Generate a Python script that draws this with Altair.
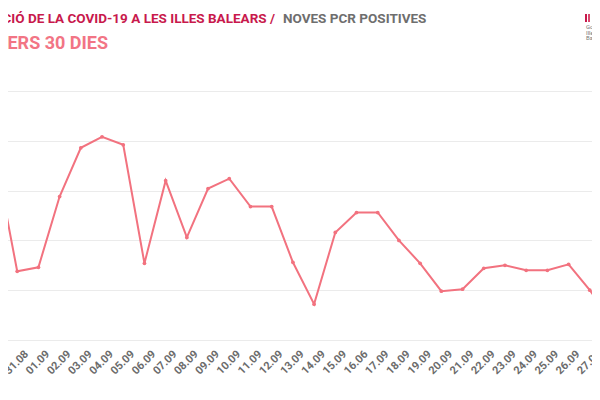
import altair as alt
import pandas as pd

dates = ["30.08", "31.08", "01.09", "02.09", "03.09", "04.09", "05.09", "06.09",
         "07.09", "08.09", "09.09", "10.09", "11.09", "12.09", "13.09", "14.09",
         "15.09", "16.06", "17.09", "18.09", "19.09", "20.09", "21.09", "22.09",
         "23.09", "24.09", "25.09", "26.09", "27.09", "28.09"]
positives = [362, 138, 146, 288, 386, 408, 392, 154, 320, 206, 304, 324, 268, 268,
             156, 72, 216, 256, 256, 200, 154, 98, 102, 144, 150, 140, 140, 152,
             100, 42]
y_ticks = [0, 100, 200, 300, 400, 500]

title_main = "EVOLUCIÓ DE LA COVID-19 A LES ILLES BALEARS /"
title_side = "NOVES PCR POSITIVES"
subtitle = "DARRERS 30 DIES"
logo_lines = ["Govern", "Illes", "Balears"]

df = pd.DataFrame({"date": dates, "value": positives})

FONT = "Roboto"
LINE = "#f2727f"

base = alt.Chart(df)
line = base.mark_line(
    color=LINE, strokeWidth=2, clip=False,
    point=alt.OverlayMarkDef(color=LINE, size=14, filled=True),
).encode(
    x=alt.X("date:O", sort=None,
            scale=alt.Scale(type="point", padding=0),
            axis=alt.Axis(title=None, labelAngle=-45, domain=False, ticks=False,
                          labelFont=FONT, labelFontWeight="bold", labelFontSize=11,
                          labelColor="#6b6b6b", labelPadding=8, labelOverlap=False,
                          labelOffset=5)),
    y=alt.Y("value:Q",
            scale=alt.Scale(domain=[0, 500], nice=False, zero=True),
            axis=alt.Axis(title=None, values=y_ticks, labels=False, domain=False,
                          ticks=False, gridColor="#ebebeb", gridWidth=1)),
)

one = pd.DataFrame({"k": [0]})

t1 = alt.Chart(one).mark_text(
    text=title_main, font=FONT, fontWeight="bold", fontSize=13.5, color="#c8194c",
    align="right", baseline="alphabetic",
).encode(x=alt.value(279), y=alt.value(-68))

t2 = alt.Chart(one).mark_text(
    text=title_side, font=FONT, fontWeight="bold", fontSize=13.5, color="#6e6e6e",
    align="left", baseline="alphabetic",
).encode(x=alt.value(287), y=alt.value(-68))

t3 = alt.Chart(one).mark_text(
    text=subtitle, font=FONT, fontWeight="bold", fontSize=18, color="#f27585",
    align="right", baseline="alphabetic",
).encode(x=alt.value(112), y=alt.value(-42.5))

logo_bar1 = alt.Chart(one).mark_rect(color="#c8194c").encode(
    x=alt.value(589), x2=alt.value(591), y=alt.value(-77), y2=alt.value(-69))
logo_bar2 = alt.Chart(one).mark_rect(color="#d94a70").encode(
    x=alt.value(592), x2=alt.value(594), y=alt.value(-77), y2=alt.value(-69))

logo_df = pd.DataFrame({"t": logo_lines, "yy": [-62, -56.5, -51]})
logo_txt = alt.Chart(logo_df).mark_text(
    font=FONT, fontSize=6, color="#777777", align="left", baseline="alphabetic",
).encode(x=alt.value(590), y=alt.Y("yy:Q", scale=None), text="t:N")

chart = alt.layer(line, t1, t2, t3, logo_bar1, logo_bar2, logo_txt).properties(
    width=615, height=249,
    padding={"left": -12, "right": -19, "top": 83, "bottom": 46},
    autosize=alt.AutoSizeParams(type="none"),
    background="white",
).configure_view(stroke=None)

chart.save("out.html", embed_options={"renderer": "svg", "actions": False})
